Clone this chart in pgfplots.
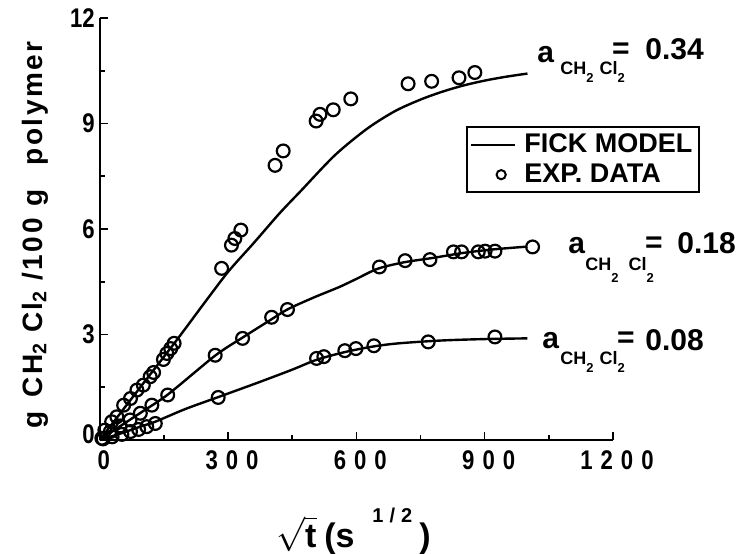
\documentclass[border=0pt]{standalone}
\usepackage{fontspec}
\setmainfont{Liberation Sans}
\newfontfamily\condfont[FakeStretch=0.82]{Liberation Sans}
\newfontfamily\spacedfont[LetterSpace=9]{Liberation Sans}
\usepackage{pgfplots}
\pgfplotsset{compat=1.18}
\pgfplotsset{
  lineleg/.style={legend image code/.code={\draw[##1] (0pt,0pt) -- (22pt,0pt);}},
  markleg/.style={legend image code/.code={\draw[##1] plot coordinates {(15pt,0pt)};}},
}
\newcommand{\subtwo}[1]{\raisebox{#1}{\fontsize{6.5}{6.5}\selectfont 2}}
\newcommand{\dsp}{\hspace{4pt}}
\begin{document}
\begin{tikzpicture}
\begin{axis}[
  scale only axis, width=256.65pt, height=211pt,
  xmin=0, xmax=1200, ymin=0, ymax=12,
  axis x line=bottom, axis y line=left,
  axis line style={-, line width=1pt},
  tick align=inside,
  major tick length=4pt, minor tick length=2.5pt,
  every tick/.style={black, line width=0.8pt},
  xtick={0,300,600,900,1200}, minor xtick={150,450,750,1050},
  ytick={0,3,6,9,12}, minor ytick={1.5,4.5,7.5,10.5},
  xticklabels={0,{3\dsp0\dsp0},{6\dsp0\dsp0},{9\dsp0\dsp0},{1\dsp2\dsp0\dsp0}},
  yticklabels={{\raisebox{6pt}{0}},3,6,9,12},
  ticklabel style={font=\condfont\fontsize{13.5}{13.5}\selectfont\bfseries},
  xticklabel style={yshift=-2pt, xshift=2pt},
  yticklabel style={xshift=1pt},
  clip=false,
  legend style={at={(rel axis cs:0.7136,0.744)}, anchor=north west, draw=black, line width=1pt,
    font=\fontsize{13.5}{13.5}\selectfont\bfseries, inner xsep=1.5pt, inner ysep=1.5pt,
    row sep=0pt, column sep=2pt},
  legend cell align=left,
]
% Fick model curves
\addplot[black, line width=1.2pt, smooth, forget plot] coordinates {
(0,0) (50,0.79) (100,1.58) (180,2.84) (240,3.82) (300,4.78) (360,5.6) (420,6.44) (470,7.08) (550,8.1) (625,8.85) (690,9.35) (750,9.68) (800,9.9) (850,10.08) (900,10.22) (950,10.33) (1000,10.42)};
\addplot[black, line width=1.2pt, smooth, forget plot] coordinates {
(0,0) (50,0.41) (100,0.81) (160,1.3) (270,2.4) (335,2.92) (400,3.42) (440,3.72) (500,4.05) (560,4.35) (600,4.58) (650,4.87) (710,5.05) (780,5.18) (850,5.32) (920,5.42) (1000,5.5)};
\addplot[black, line width=1.2pt, smooth, forget plot] coordinates {
(0,0) (50,0.19) (100,0.4) (130,0.52) (200,0.88) (277,1.22) (374,1.65) (450,2.0) (507,2.28) (573,2.5) (640,2.66) (700,2.75) (800,2.83) (900,2.87) (1000,2.89)};
% experimental data
\addplot[black, only marks, mark=o, mark size=3.2pt, line width=1.1pt, forget plot] coordinates {
(12,0.28) (28,0.52) (40,0.66) (56,0.99) (72,1.18) (87,1.42) (102,1.56) (118,1.80) (126,1.92) (149,2.29) (157,2.46) (166,2.60) (174,2.75) (285,4.88) (308,5.54) (316,5.73) (330,5.97) (410,7.81) (429,8.22) (506,9.07) (515,9.26) (546,9.39) (587,9.70) (721,10.13) (776,10.2) (840,10.3) (877,10.45)};
\addplot[black, only marks, mark=o, mark size=3.2pt, line width=1.1pt, forget plot] coordinates {
(5,0.05) (25,0.24) (48,0.40) (71,0.57) (95,0.76) (122,0.99) (159,1.28) (270,2.41) (334,2.89) (402,3.49) (439,3.71) (654,4.92) (714,5.1) (772,5.13) (827,5.35) (846,5.35) (885,5.35) (901,5.37) (924,5.37) (1012,5.49)};
\addplot[black, only marks, mark=o, mark size=3.2pt, line width=1.1pt, forget plot] coordinates {
(8,0.03) (29,0.09) (52,0.16) (72,0.24) (91,0.30) (110,0.38) (130,0.47) (277,1.21) (507,2.32) (524,2.37) (573,2.54) (599,2.60) (641,2.68) (768,2.79) (924,2.93)};
\addlegendimage{black, line width=1.2pt, lineleg}
\addlegendentry{FICK MODEL}
\addlegendimage{black, only marks, mark=o, mark size=2.3pt, line width=1pt, markleg}
\addlegendentry{EXP. DATA}
\end{axis}
\coordinate (O) at ([xshift=-49.85pt, yshift=220pt]current axis.south west);
\pgfresetboundingbox
\begin{scope}[shift={(O)}, x=0.5pt, y=-0.5pt]
\path[use as bounding box] (0,0) rectangle (740,553);
% y label
\node[rotate=90, font=\spacedfont\fontsize{14}{14}\selectfont\bfseries, inner sep=0] at (35,235)
  {g\hspace{7pt}CH\textsubscript{2}\hspace{5pt}Cl\textsubscript{2}\hspace{5pt}/100\hspace{6pt}g\hspace{12pt}polymer};
% x label
\node[anchor=base west, font=\fontsize{17}{17}\selectfont\bfseries, inner sep=0] at (276,547) {$\sqrt{\mbox{\bfseries t}}$};
\node[anchor=base west, font=\fontsize{17}{17}\selectfont\bfseries, inner sep=0] at (324,547) {(s};
\node[anchor=base west, font=\fontsize{10}{10}\selectfont\bfseries, inner sep=0] at (372,522) {1\hspace{3pt}/\hspace{3pt}2};
\node[anchor=base west, font=\fontsize{17}{17}\selectfont\bfseries, inner sep=0] at (419,547) {)};
% annotations 0.34
\node[anchor=base west, font=\fontsize{15}{15}\selectfont\bfseries, inner sep=0] at (537,62) {a};
\node[anchor=base west, font=\fontsize{9}{9}\selectfont\bfseries, inner sep=0] at (560,75) {CH\subtwo{-4pt}\hspace{3pt}Cl\subtwo{-4pt}};
\node[font=\fontsize{15}{15}\selectfont\bfseries, inner sep=0] at (621,51) {=};
\node[anchor=base west, font=\fontsize{15}{15}\selectfont\bfseries, inner sep=0] at (645,60) {0.34};
% annotations 0.18
\node[anchor=base west, font=\fontsize{15}{15}\selectfont\bfseries, inner sep=0] at (568,253) {a};
\node[anchor=base west, font=\fontsize{9}{9}\selectfont\bfseries, inner sep=0] at (585,270) {CH\subtwo{-6pt}\hspace{5pt}Cl\subtwo{-6pt}};
\node[font=\fontsize{15}{15}\selectfont\bfseries, inner sep=0] at (654,245) {=};
\node[anchor=base west, font=\fontsize{15}{15}\selectfont\bfseries, inner sep=0] at (677,253) {0.18};
% annotations 0.08
\node[anchor=base west, font=\fontsize{15}{15}\selectfont\bfseries, inner sep=0] at (542,348) {a};
\node[anchor=base west, font=\fontsize{9}{9}\selectfont\bfseries, inner sep=0] at (560,364) {CH\subtwo{-4pt}\hspace{3pt}Cl\subtwo{-4pt}};
\node[font=\fontsize{15}{15}\selectfont\bfseries, inner sep=0] at (626,340) {=};
\node[anchor=base west, font=\fontsize{15}{15}\selectfont\bfseries, inner sep=0] at (645,350) {0.08};
\end{scope}
\end{tikzpicture}
\end{document}
